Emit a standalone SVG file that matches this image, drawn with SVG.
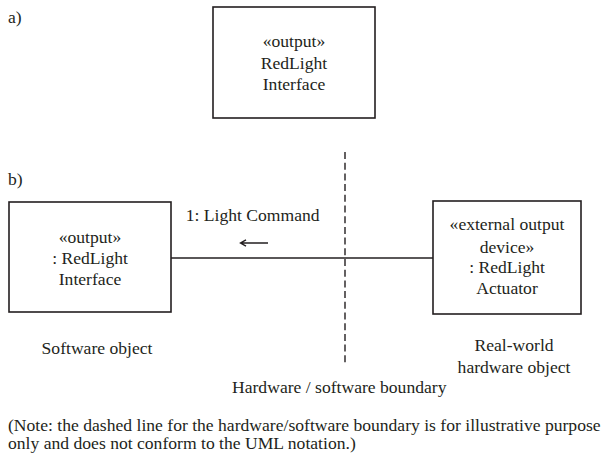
<svg xmlns="http://www.w3.org/2000/svg" width="611" height="457" viewBox="0 0 611 457">
<style>
text{font-family:"Liberation Serif","Times New Roman",serif;font-size:17.6px;fill:#231f20}
.c{text-anchor:middle}
.box{fill:#fff;stroke:#231f20;stroke-width:1.6}
.ln{stroke:#231f20;stroke-width:1.4;fill:none}
</style>
<rect width="611" height="457" fill="#fff"/>
<text x="8" y="23">a)</text>
<text x="8" y="185">b)</text>
<g id="nodeA">
<rect class="box" x="213" y="7" width="162" height="111"/>
<text class="c" x="294" y="47">«output»</text>
<text class="c" x="294" y="68.5">RedLight</text>
<text class="c" x="294" y="90">Interface</text>
</g>
<g id="boundary">
<line class="ln" x1="345" y1="152" x2="345" y2="363" stroke-dasharray="7 3.7" stroke-width="1.3"/>
<text x="232" y="393">Hardware / software boundary</text>
</g>
<g id="connectors">
<line class="ln" x1="171" y1="258" x2="433" y2="258"/>
<text x="185.7" y="220.7">1: Light Command</text>
<path class="ln" d="M241 243 H268 M246 239.8 L240.5 243 L246 246.2"/>
</g>
<g id="softwareObject">
<rect class="box" x="9" y="202" width="162" height="110"/>
<text class="c" x="90" y="243">«output»</text>
<text class="c" x="90" y="264">: RedLight</text>
<text class="c" x="90" y="284.5">Interface</text>
<text class="c" x="97" y="354">Software object</text>
</g>
<g id="hardwareObject">
<rect class="box" x="433" y="201" width="148" height="113"/>
<text class="c" x="507" y="229.5">«external output</text>
<text class="c" x="507" y="252.5">device»</text>
<text class="c" x="507" y="273">: RedLight</text>
<text class="c" x="507" y="294">Actuator</text>
<text class="c" x="514" y="351">Real-world</text>
<text class="c" x="514" y="373">hardware object</text>
</g>
<text x="8" y="430.5">(Note: the dashed line for the hardware/software boundary is for illustrative purpose</text>
<text x="8" y="449">only and does not conform to the UML notation.)</text>
</svg>
